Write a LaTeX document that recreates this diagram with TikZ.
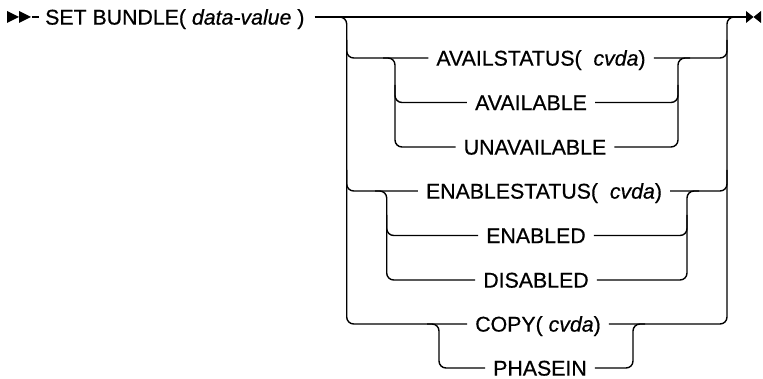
\documentclass[tikz,border=0pt]{standalone}
\usepackage{fontspec}
\setmainfont{Liberation Sans}
\newfontfamily\kwfont{Liberation Sans}[FakeBold=0.6]
\tikzset{
  rail/.style={line width=1.4pt, rounded corners=7pt},
  kw/.style={font=\kwfont\fontsize{21.3}{25}\selectfont, inner xsep=8pt, inner ysep=0pt, text height=15.2pt, text depth=0pt},
}
\begin{document}
\begin{tikzpicture}[x=1pt,y=-1pt]
\useasboundingbox (0,0) rectangle (763,379);
% coordinates
\coordinate (start) at (32,17);
\coordinate (fin) at (746,17);
% nodes
\node[kw, anchor=west, inner xsep=0pt] (title) at (45,17) {SET BUNDLE( \textit{data-value} )};
\node[kw] (avst) at (541,58) {AVAILSTATUS(\ \ \textit{cvda})};
\node[kw] (av) at (531,102.5) {AVAILABLE};
\node[kw] (unav) at (535,147) {UNAVAILABLE};
\node[kw] (enst) at (544,191) {ENABLESTATUS(\ \ \textit{cvda})};
\node[kw] (en) at (536,235.5) {ENABLED};
\node[kw] (dis) at (536,280) {DISABLED};
\node[kw] (copy) at (538,324) {COPY( \textit{cvda})};
\node[kw] (ph) at (540,368) {PHASEIN};
% start / end marks
\fill (7,11) -- (19,17) -- (7,23) -- cycle;
\fill (19,11) -- (31,17) -- (19,23) -- cycle;
\fill (746,11) -- (753.5,17) -- (746,23) -- cycle;
\fill (761,11) -- (753.5,17) -- (761,23) -- cycle;
% main line
\draw[line width=1.4pt] (start) -- ([xshift=-6pt]title.west);
\draw[line width=1.4pt] ([xshift=10pt]title.east) -- (fin);
% outer left / right
\draw[rail] (330,17) -- (346.7,17) -- (346.7,324) -- (copy.west);
\draw[rail] (346.7,40) -- (346.7,58) -- (avst.west);
\draw[rail] (346.7,170) -- (346.7,191) -- (enst.west);
\draw[rail] (copy.east) -- (727,324) -- (727,17) -- (742,17);
\draw[rail] (avst.east) -- (727,58) -- (727,40);
\draw[rail] (enst.east) -- (727,191) -- (727,170);
% AVAIL group
\draw[rail] (383,58) -- (395,58) -- (395,147) -- (unav.west);
\draw[rail] (395,85) -- (395,102.5) -- (av.west);
\draw[rail] (unav.east) -- (678,147) -- (678,58) -- (690,58);
\draw[rail] (av.east) -- (678,102.5) -- (678,85);
% ENABLE group
\draw[rail] (375,191) -- (386.7,191) -- (386.7,280) -- (dis.west);
\draw[rail] (386.7,215) -- (386.7,235.5) -- (en.west);
\draw[rail] (dis.east) -- (687,280) -- (687,191) -- (699,191);
\draw[rail] (en.east) -- (687,235.5) -- (687,215);
% COPY / PHASEIN
\draw[rail] (427,324) -- (439,324) -- (439,368) -- (ph.west);
\draw[rail] (ph.east) -- (633,368) -- (633,324) -- (645,324);
\end{tikzpicture}
\end{document}
